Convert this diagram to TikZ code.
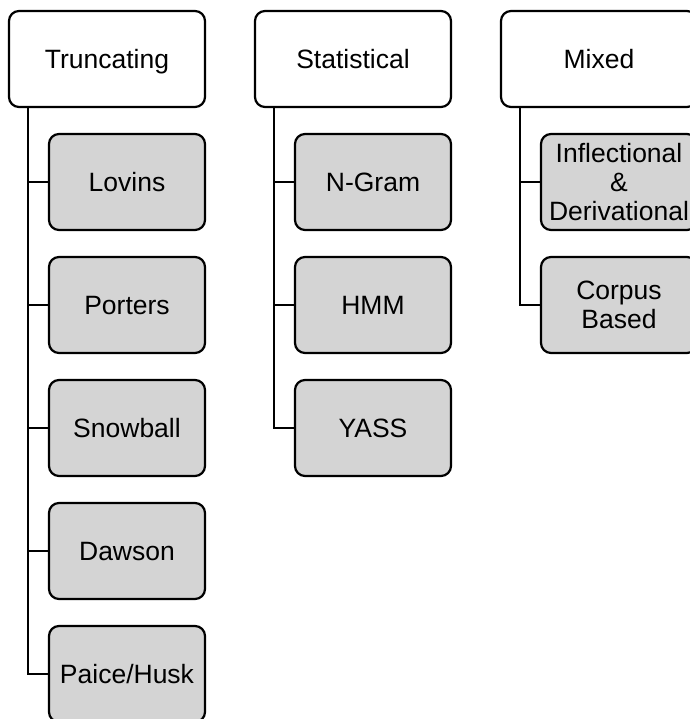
\documentclass[tikz,border=0pt]{standalone}
\usepackage{fontspec}
\setmainfont{Liberation Sans}
\usetikzlibrary{positioning}
\usetikzlibrary{calc}

\begin{document}
\begin{tikzpicture}[x=1pt, y=1pt, every node/.style={draw, rounded corners=10pt, line width=2.2pt, align=center, font=\fontsize{26.5}{29}\selectfont}, oneline/.style={text height=19pt, text depth=0pt}, head/.style={oneline, minimum width=196pt, minimum height=96pt, fill=white}, leaf/.style={minimum width=156pt, minimum height=96pt, fill=black!17}, stem/.style={line width=2.2pt}]
        \useasboundingbox (0,0) rectangle (689,-719);
        % Define the vertical spacing of the leaves
        \def\gap{123}

        % Draw the three heads
        \node[head] (t) at (107,-59) {Truncating};
        \node[head] (s) at (353,-59) {Statistical};
        \node[head] (m) at (599,-59) {Mixed};

        % Points where the stems leave the heads
        \coordinate (tstem) at ($(t.south west)+(20,0)$);
        \coordinate (sstem) at ($(s.south west)+(20,0)$);
        \coordinate (mstem) at ($(m.south west)+(20,0)$);

        % Draw the leaves and connect them to their head
        \foreach \lbl [count=\i] in {Lovins, Porters, Snowball, Dawson, Paice/Husk}
        {
          \node[leaf, oneline] (t\i) at (127,{-182-\gap*(\i-1)}) {\lbl};
          \draw[stem] (t\i.west) -| (tstem);
        }
        \foreach \lbl [count=\i] in {N-Gram, HMM, YASS}
        {
          \node[leaf, oneline] (s\i) at (373,{-182-\gap*(\i-1)}) {\lbl};
          \draw[stem] (s\i.west) -| (sstem);
        }
        \foreach \lbl [count=\i] in {{Inflectional\\\&\\Derivational}, {Corpus\\Based}}
        {
          \node[leaf] (m\i) at (619,{-182-\gap*(\i-1)}) {\lbl};
          \draw[stem] (m\i.west) -| (mstem);
        }
      \end{tikzpicture}
\end{document}
